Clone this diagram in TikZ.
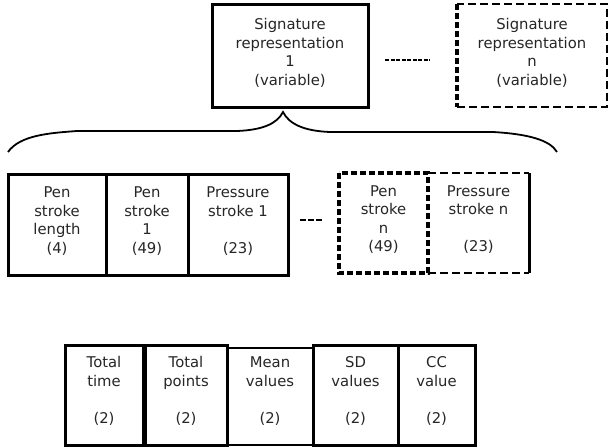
\documentclass[tikz,border=0pt]{standalone}
\usepackage{fontspec}
\setmainfont{DejaVu Sans}
\begin{document}
\begin{tikzpicture}[x=1pt,y=-1pt,
  txt/.style={font=\fontsize{14.8}{18.5}\selectfont, align=center, text=black!85, inner sep=0pt},
  thickbox/.style={draw, line width=3pt},
  midbox/.style={draw, line width=2pt},
  thindash/.style={line width=1.6pt, dash pattern=on 8pt off 4pt},
  thickdash/.style={line width=3.4pt, dash pattern=on 6pt off 3pt},
  cell/.style={minimum height=100pt, inner sep=0pt, outer sep=0pt}]
\useasboundingbox (0,0) rectangle (610,447);
% top row
\node[thickbox, cell, minimum width=156pt, minimum height=103pt] (s1) at (290,55.5) {};
\node[txt] (s1t) at (290,53) {Signature\\representation\\1\\(variable)};
\node[cell, minimum width=150pt, minimum height=103pt] (sn) at (532,55.5) {};
\node[txt] (snt) at (532,53) {Signature\\representation\\n\\(variable)};
\draw[thindash] (sn.south west) -- (sn.south east) -- (sn.north east) -- (sn.north west);
\draw[thickdash] (sn.north west) -- (sn.south west);
\coordinate (d1) at (385,60);
\coordinate (d2) at (430,60);
\draw[line width=1.8pt, dash pattern=on 4pt off 1.5pt] (d1) -- (d2);
% brace
\coordinate (bl) at (8,152);
\coordinate (btip) at (283,112);
\coordinate (br) at (557,152);
\draw[line width=1.8pt] (bl) .. controls (20,135) and (50,133) .. (77,131) -- (237,131)
  .. controls (262,130) and (277,124) .. (btip)
  .. controls (289,124) and (304,131) .. (330,132) -- (493,132)
  .. controls (528,134) and (550,140) .. (br);
% middle row
\node[thickbox, cell, minimum width=98pt, minimum height=101pt] (p1) at (57,224.5) {};
\node[txt] at (57,221) {Pen\\stroke\\length\\(4)};
\node[thickbox, cell, minimum width=82pt, minimum height=101pt] (p2) at (147,224.5) {};
\node[txt] at (147,221) {Pen\\stroke\\1\\(49)};
\node[thickbox, cell, minimum width=100pt, minimum height=101pt] (p3) at (238,224.5) {};
\node[txt] at (238,221) {Pressure\\stroke 1\\~\\(23)};
\coordinate (m1) at (300,220);
\coordinate (m2) at (323,220);
\draw[line width=1.5pt, dash pattern=on 6pt off 2pt] (m1) -- (m2);
\node[cell, minimum width=89pt, minimum height=100pt] (pn) at (383.5,223) {};
\node[txt] at (383.5,219.5) {Pen\\stroke\\n\\(49)};
\node[cell, minimum width=101pt, minimum height=100pt] (qn) at (478.5,223) {};
\node[txt] at (478.5,219.5) {Pressure\\stroke n\\~\\(23)};
\draw[thindash] (qn.north west) -- (qn.north east);
\draw[thindash] (qn.south west) -- (qn.south east);
\draw[line width=3pt] (qn.north east) -- (qn.south east);
\draw[thickdash] (pn.north west) rectangle (pn.south east);
% bottom row
\node[thickbox, cell, minimum width=78pt] (f1) at (104,395) {};
\node[txt] at (104,391) {Total\\time\\~\\(2)};
\node[thickbox, cell, minimum width=82pt] (f2) at (186,395) {};
\node[txt] at (186,391) {Total\\points\\~\\(2)};
\node[midbox, cell, minimum width=86pt, minimum height=97pt] (f3) at (270,396.5) {};
\node[txt] at (270,391) {Mean\\values\\~\\(2)};
\node[thickbox, cell, minimum width=85pt] (f4) at (355.5,395) {};
\node[txt] at (355.5,391) {SD\\values\\~\\(2)};
\node[thickbox, cell, minimum width=77pt] (f5) at (436.5,395) {};
\node[txt] at (436.5,391) {CC\\value\\~\\(2)};
\end{tikzpicture}
\end{document}
